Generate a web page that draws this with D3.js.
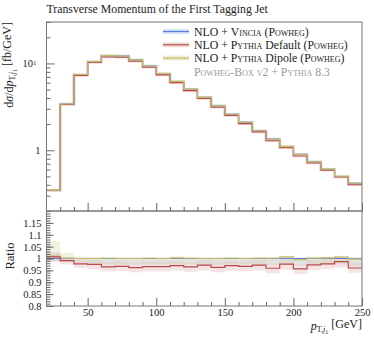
<!DOCTYPE html>
<html>
<head>
<meta charset="utf-8">
<script src="https://cdn.jsdelivr.net/npm/d3@7"></script>
<style>
  body { margin: 0; background: #fff; }
  svg text { font-family: "Liberation Serif", "Times New Roman", serif; fill: #222; }
</style>
</head>
<body>
<svg id="chart" width="374" height="337"></svg>
<script>
// bin edges, 10 GeV wide
var binLo = [20,30,40,50,60,70,80,90,100,110,120,130,140,150,160,170,180,190,200,210,220,230,240];

// d sigma / d pT [fb/GeV]
var vincia  = [0.345,3.40,7.45,10.5,12.3,12.2,11.0,9.35,7.65,6.20,5.05,4.07,3.25,2.60,2.10,1.68,1.35,1.10,0.900,0.735,0.605,0.500,0.418];
var pyDef   = [0.347,3.37,7.28,10.24,11.87,11.80,10.58,9.03,7.39,6.01,4.87,3.96,3.13,2.52,2.03,1.63,1.29,1.07,0.860,0.715,0.591,0.494,0.401];
var pyDip   = [0.348,3.41,7.45,10.5,12.3,12.2,11.0,9.36,7.65,6.22,5.06,4.07,3.25,2.60,2.10,1.68,1.35,1.11,0.895,0.736,0.607,0.503,0.417];

// ratio to Vincia
var ratioVincia = [1,1,1,1,1,1,1,1,1,1,1,1,1,1,1,1,1,1,1,1,1,1,1];
var ratioDef    = [1.007,0.991,0.977,0.975,0.965,0.967,0.962,0.966,0.966,0.970,0.965,0.972,0.963,0.970,0.967,0.972,0.959,0.976,0.956,0.973,0.977,0.987,0.960];
var ratioDip    = [1.010,1.002,1.000,1.000,1.001,1.000,1.000,1.001,1.000,1.003,1.001,1.000,1.000,1.001,1.000,1.001,1.001,1.007,0.995,1.002,1.003,1.006,0.997];

// uncertainty bands (ratio)
var vinBandLo = [0.990,0.985,0.980,0.978,0.975,0.975,0.974,0.975,0.975,0.974,0.975,0.975,0.974,0.975,0.975,0.975,0.972,0.975,0.970,0.975,0.975,0.975,0.968];
var vinBandHi = [1.027,1.005,1.004,1.004,1.004,1.004,1.004,1.004,1.004,1.004,1.004,1.004,1.004,1.004,1.004,1.004,1.004,1.006,1.004,1.004,1.006,1.010,1.004];
var defBandLo = [0.985,0.975,0.960,0.955,0.945,0.947,0.942,0.945,0.945,0.948,0.944,0.950,0.942,0.948,0.946,0.950,0.938,0.953,0.935,0.951,0.955,0.962,0.940];
var defBandHi = [1.022,1.000,0.995,0.993,0.985,0.987,0.982,0.986,0.986,0.990,0.985,0.992,0.983,0.990,0.987,0.992,0.979,0.996,0.976,0.993,0.997,1.005,0.980];
var dipBandLo = [0.998,0.998,0.985,0.978,0.976,0.976,0.975,0.976,0.976,0.977,0.976,0.976,0.975,0.976,0.976,0.976,0.975,0.980,0.972,0.977,0.977,0.980,0.972];
var dipBandHi = [1.073,1.024,1.008,1.006,1.006,1.005,1.005,1.006,1.005,1.008,1.006,1.005,1.005,1.006,1.005,1.006,1.006,1.012,1.002,1.007,1.008,1.012,1.003];

var yMajor = [1, 10];
var yMinor = [0.2,0.3,0.4,0.5,0.6,0.7,0.8,0.9,2,3,4,5,6,7,8,9,20,30];
var rMajor = [0.8,0.85,0.9,0.95,1,1.05,1.1,1.15];
var xMajor = [50,100,150,200,250];

var series = [
  { name: 'Vincia',  pre: 'NLO + ', sc: 'Vincia', post: '', main: vincia, ratio: ratioVincia, lo: vinBandLo, hi: vinBandHi, color: '#5b7ee6', band: '#b4c6f2' },
  { name: 'Default', pre: 'NLO + ', sc: 'Pythia', post: ' Default', main: pyDef, ratio: ratioDef, lo: defBandLo, hi: defBandHi, color: '#b84a4a', band: '#e8baba' },
  { name: 'Dipole',  pre: 'NLO + ', sc: 'Pythia', post: ' Dipole', main: pyDip, ratio: ratioDip, lo: dipBandLo, hi: dipBandHi, color: '#c7bd6a', band: '#e2dcb4' }
];

var L = 46.5, R = 362, T = 22, M = 211, B = 306;
var svg = d3.select('#chart');

var x = d3.scaleLinear().domain([20, 250]).range([L, R]);
var y = d3.scaleLog().domain([0.2, 30]).range([M, T]);
var yr = d3.scaleLinear().domain([0.8, 1.2]).range([B, M]);

svg.append('defs').append('clipPath').attr('id', 'clipR')
  .append('rect').attr('x', L).attr('y', M).attr('width', R - L).attr('height', B - M);

function stepPts(vals) {
  var pts = [];
  vals.forEach(function(v, i) {
    pts.push([binLo[i], v]);
    pts.push([binLo[i] + 10, v]);
  });
  return pts;
}

// --- ratio bands + lines
var gR = svg.append('g').attr('clip-path', 'url(#clipR)');
series.forEach(function(s) {
  var area = d3.area()
    .x(function(d) { return x(d[0]); })
    .y0(function(d) { return yr(d[1]); })
    .y1(function(d) { return yr(d[2]); });
  var pts = [];
  s.lo.forEach(function(v, i) {
    pts.push([binLo[i], v, s.hi[i]]);
    pts.push([binLo[i] + 10, v, s.hi[i]]);
  });
  gR.append('path').attr('d', area(pts)).attr('fill', s.band).attr('opacity', 0.4);
});
[series[0], series[2], series[1]].forEach(function(s) {
  var line = d3.line().x(function(d) { return x(d[0]); }).y(function(d) { return yr(d[1]); });
  gR.append('path').attr('d', line(stepPts(s.ratio)))
    .attr('fill', 'none').attr('stroke', s.color).attr('stroke-width', 1.2);
});

// --- main panel lines
var gM = svg.append('g');
series.forEach(function(s) {
  var line = d3.line().x(function(d) { return x(d[0]); }).y(function(d) { return y(d[1]); });
  gM.append('path').attr('d', line(stepPts(s.main)))
    .attr('fill', 'none').attr('stroke', s.band).attr('stroke-width', 2.6).attr('opacity', 0.5);
});
series.forEach(function(s) {
  var line = d3.line().x(function(d) { return x(d[0]); }).y(function(d) { return y(d[1]); });
  gM.append('path').attr('d', line(stepPts(s.main)))
    .attr('fill', 'none').attr('stroke', s.color).attr('stroke-width', 1.1);
});

// --- axes
function styleAxis(g) {
  g.select('.domain').remove();
  g.selectAll('line').attr('stroke', '#666');
  g.selectAll('text').attr('fill', '#222').style('font-size', '10.5px').style('font-family', '"Liberation Serif", serif');
}

svg.append('g').attr('transform', 'translate(' + L + ',0)')
  .call(d3.axisLeft(y).tickValues(yMajor).tickSizeInner(-8).tickSizeOuter(0).tickPadding(6)
    .tickFormat(function(d) { return d == 1 ? '1' : '10'; }))
  .call(styleAxis)
  .selectAll('.tick text').each(function(d) {
    if (d == 10) {
      d3.select(this).attr('x', -10).append('tspan').attr('dy', '-0.4em').style('font-size', '7px').text('1');
    }
  });
svg.append('g').attr('transform', 'translate(' + L + ',0)')
  .call(d3.axisLeft(y).tickValues(yMinor).tickSizeInner(-4).tickSizeOuter(0).tickFormat(''))
  .call(styleAxis);

svg.append('g').attr('transform', 'translate(' + L + ',0)')
  .call(d3.axisLeft(yr).tickValues(rMajor).tickSizeInner(-7).tickSizeOuter(0).tickPadding(5)
    .tickFormat(function(d) { return String(+d.toFixed(2)); }))
  .call(styleAxis);
svg.append('g').attr('transform', 'translate(' + L + ',0)')
  .call(d3.axisLeft(yr).tickValues(d3.range(80, 120).map(function(v) { return v / 100; }))
    .tickSizeInner(-4).tickSizeOuter(0).tickFormat(''))
  .call(styleAxis);

[M, B].forEach(function(yy, k) {
  svg.append('g').attr('transform', 'translate(0,' + yy + ')')
    .call(d3.axisBottom(x).tickValues(xMajor).tickSizeInner(-8).tickSizeOuter(0).tickPadding(3)
      .tickFormat(k == 1 ? d3.format('d') : ''))
    .call(styleAxis);
  svg.append('g').attr('transform', 'translate(0,' + yy + ')')
    .call(d3.axisBottom(x).tickValues(d3.range(30, 250, 10).filter(function(v) { return v % 50; }))
      .tickSizeInner(-4).tickSizeOuter(0).tickFormat(''))
    .call(styleAxis);
});

// frames
svg.append('rect').attr('x', L).attr('y', T).attr('width', R - L).attr('height', M - T)
  .attr('fill', 'none').attr('stroke', '#777').attr('stroke-width', 1);
svg.append('rect').attr('x', L).attr('y', M).attr('width', R - L).attr('height', B - M)
  .attr('fill', 'none').attr('stroke', '#777').attr('stroke-width', 1);

// title + labels
svg.append('text').attr('x', L).attr('y', 13).style('font-size', '11.8px')
  .text('Transverse Momentum of the First Tagging Jet');

var yl = svg.append('text').attr('transform', 'translate(13,' + T + ') rotate(-90)')
  .attr('text-anchor', 'end').style('font-size', '12px');
yl.append('tspan').text('d');
yl.append('tspan').style('font-style', 'italic').text('σ');
yl.append('tspan').text('/d');
yl.append('tspan').style('font-style', 'italic').text('p');
yl.append('tspan').attr('dy', '0.3em').style('font-size', '8px').text('T,');
yl.append('tspan').style('font-style', 'italic').style('font-size', '8px').text('j');
yl.append('tspan').attr('dy', '0.2em').style('font-size', '6px').text('1');
yl.append('tspan').attr('dy', '-0.5em').text(' [fb/GeV]');

svg.append('text').attr('transform', 'translate(14,256) rotate(-90)')
  .attr('text-anchor', 'middle').style('font-size', '12.5px').text('Ratio');

var xl = svg.append('text').attr('x', R).attr('y', 330).attr('text-anchor', 'end').style('font-size', '12px');
xl.append('tspan').style('font-style', 'italic').text('p');
xl.append('tspan').attr('dy', '0.3em').style('font-size', '8px').text('T,');
xl.append('tspan').style('font-style', 'italic').style('font-size', '8px').text('j');
xl.append('tspan').attr('dy', '0.2em').style('font-size', '6px').text('1');
xl.append('tspan').attr('dy', '-0.5em').text(' [GeV]');

// legend
var leg = svg.append('g');
series.forEach(function(s, i) {
  var yy = 31.5 + i * 13.3;
  leg.append('rect').attr('x', 163).attr('y', yy - 2.5).attr('width', 26).attr('height', 5)
    .attr('fill', s.band).attr('opacity', 0.55);
  leg.append('line').attr('x1', 163).attr('x2', 189).attr('y1', yy).attr('y2', yy)
    .attr('stroke', s.color).attr('stroke-width', 1.2);
  var t = leg.append('text').attr('x', 194).attr('y', yy + 4).style('font-size', '11.8px');
  t.append('tspan').text(s.pre);
  t.append('tspan').style('font-variant', 'small-caps').text(s.sc);
  t.append('tspan').text(s.post + ' (');
  t.append('tspan').style('font-variant', 'small-caps').text('Powheg');
  t.append('tspan').text(')');
});
var g4 = leg.append('text').attr('x', 194).attr('y', 75.5).style('font-size', '11.8px').attr('fill', '#999');
g4.append('tspan').style('font-variant', 'small-caps').attr('fill', '#999').text('Powheg-Box v2 + Pythia 8.3');
</script>
</body>
</html>
